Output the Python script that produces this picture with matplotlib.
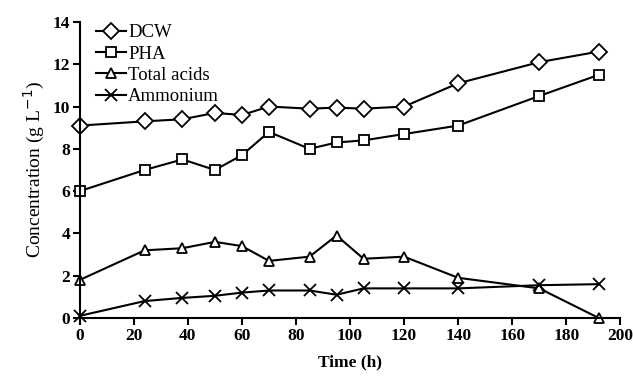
import numpy as np
import matplotlib.pyplot as plt

time_h = [0, 24, 38, 50, 60, 70, 85, 95, 105, 120, 140, 170, 192]
dcw = [9.1, 9.3, 9.4, 9.7, 9.6, 10.0, 9.9, 9.95, 9.9, 10.0, 11.1, 12.1, 12.6]
pha = [6.0, 7.0, 7.5, 7.0, 7.7, 8.8, 8.0, 8.3, 8.4, 8.7, 9.1, 10.5, 11.5]
total_acids = [1.8, 3.2, 3.3, 3.6, 3.4, 2.7, 2.9, 3.9, 2.8, 2.9, 1.9, 1.4, 0.0]
ammonium = [0.1, 0.8, 0.95, 1.05, 1.2, 1.3, 1.3, 1.1, 1.4, 1.4, 1.4, 1.55, 1.6]

plt.rcParams['font.family'] = ['Liberation Serif', 'DejaVu Serif']

fig = plt.figure(figsize=(6.33, 3.79), dpi=100)
ax = fig.add_axes([0.126, 0.161, 0.854, 0.781])

style = dict(color="black", linewidth=1.5, markerfacecolor="white",
             markeredgecolor="black", markeredgewidth=1.3, clip_on=False)
ax.plot(time_h, dcw, marker="D", markersize=8, label="DCW", **style)
ax.plot(time_h, pha, marker="s", markersize=7, label="PHA", **style)
ax.plot(time_h, total_acids, marker="^", markersize=7.5, label="Total acids", **style)
ax.plot(time_h, ammonium, marker="x", markersize=8, label="Ammonium", **style)

ax.set_xlim(0, 200)
ax.set_ylim(0, 14)
ax.set_xticks(np.arange(0, 201, 20))
ax.set_yticks(np.arange(0, 15, 2))
for lbl in ax.get_xticklabels() + ax.get_yticklabels():
    lbl.set_fontweight("bold")
ax.tick_params(labelsize=12.5, width=1.5, length=5, pad=2)
ax.spines["top"].set_visible(False)
ax.spines["right"].set_visible(False)
ax.spines["left"].set_linewidth(1.5)
ax.spines["bottom"].set_linewidth(1.5)

ax.set_xlabel("Time (h)", fontsize=12.5, fontweight="bold", labelpad=8)
ax.set_ylabel("Concentration (g L$^{-1}$)", fontsize=14, labelpad=4)

ax.legend(loc="upper left", frameon=False, fontsize=13.5, handlelength=1.6,
          handletextpad=0.1, labelspacing=0.22, borderaxespad=0.2,
          bbox_to_anchor=(0.01, 1.03))

fig.savefig("out.png", dpi=100)
